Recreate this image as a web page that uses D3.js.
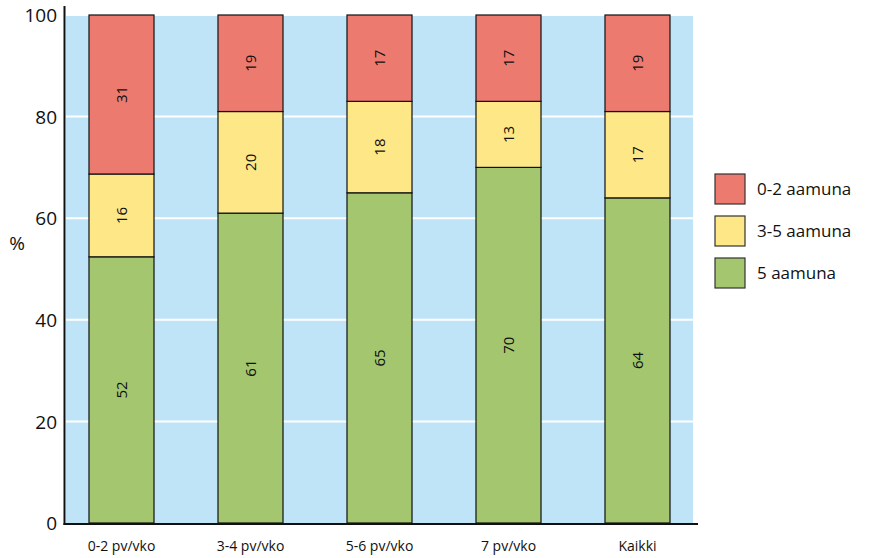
<!DOCTYPE html>
<html><head><meta charset="utf-8">
<script src="https://cdn.jsdelivr.net/npm/d3@7"></script>
<style>body{margin:0;background:#fff}svg{display:block}text{font-family:"Open Sans","Noto Sans",sans-serif;fill:#111}</style>
</head><body><svg id="c" width="879" height="558"></svg>
<script>
const categories = ["0-2 pv/vko","3-4 pv/vko","5-6 pv/vko","7 pv/vko","Kaikki"];
const seriesNames = ["5 aamuna","3-5 aamuna","0-2 aamuna"];
const green = [52.4,61,65,70,64];
const yellow = [16.3,20,18,13,17];
const red = [31.3,19,17,17,19];
const greenLabels = ["52","61","65","70","64"];
const yellowLabels = ["16","20","18","13","17"];
const redLabels = ["31","19","17","17","19"];
const yTicks = [0,20,40,60,80,100];
const colors = ["#a3c66e","#fde786","#ec7a6f"];

const svg = d3.select("#c");
const x = d3.scaleBand().domain(categories).range([57,702]).paddingInner(0.496).paddingOuter(0.248);
const y = d3.scaleLinear().domain([0,100]).range([523,15]);

svg.append("rect").attr("x",66).attr("y",16).attr("width",627).attr("height",507).attr("fill","#bfe4f8");
svg.selectAll(".grid").data(yTicks.filter(d=>d>0&&d<100)).join("line")
  .attr("x1",66).attr("x2",693).attr("y1",d=>y(d)).attr("y2",d=>y(d))
  .attr("stroke","#fff").attr("stroke-width",2);

const rows = categories.map((c,i)=>({cat:c,"5 aamuna":green[i],"3-5 aamuna":yellow[i],"0-2 aamuna":red[i]}));
const stack = d3.stack().keys(seriesNames)(rows);
const labels = [greenLabels,yellowLabels,redLabels];
stack.forEach((s,si)=>{
  const g = svg.append("g");
  g.selectAll("rect").data(s).join("rect")
    .attr("x",d=>x(d.data.cat)).attr("width",x.bandwidth())
    .attr("y",d=>y(d[1])).attr("height",d=>y(d[0])-y(d[1]))
    .attr("fill",colors[si]).attr("stroke","#111").attr("stroke-width",1.2);
  g.selectAll("text").data(s).join("text")
    .attr("transform",(d)=>`translate(${x(d.data.cat)+x.bandwidth()/2+5},${(y(d[0])+y(d[1]))/2}) rotate(-90)`)
    .attr("text-anchor","middle").attr("font-size",15)
    .text((d,i)=>labels[si][i]);
});

// axes
svg.append("line").attr("x1",64.5).attr("x2",64.5).attr("y1",6).attr("y2",525).attr("stroke","#111").attr("stroke-width",2);
svg.append("line").attr("x1",63.5).attr("x2",698).attr("y1",524).attr("y2",524).attr("stroke","#111").attr("stroke-width",2);
const yAxis = svg.append("g").attr("transform","translate(57,0)")
  .call(d3.axisLeft(y).tickValues(yTicks).tickSize(0).tickPadding(0));
yAxis.select(".domain").remove();
yAxis.selectAll("text").attr("font-size",19).attr("fill","#111").attr("dy","0.35em")
  .style("font-family",'"Open Sans","Noto Sans",sans-serif');
const xAxis = svg.append("g").attr("transform","translate(0,540)")
  .call(d3.axisBottom(x).tickSize(0).tickPadding(0));
xAxis.select(".domain").remove();
xAxis.selectAll("text").attr("font-size",14).attr("fill","#111").attr("dy","0.8em")
  .style("font-family",'"Open Sans","Noto Sans",sans-serif');

svg.append("text").attr("x",17).attr("y",243).attr("text-anchor","middle").attr("dy","0.35em").attr("font-size",19).text("%");

// legend
const legendOrder = ["0-2 aamuna","3-5 aamuna","5 aamuna"];
const legendColors = ["#ec7a6f","#fde786","#a3c66e"];
const lg = svg.append("g").attr("transform","translate(715,174)");
legendOrder.forEach((n,i)=>{
  lg.append("rect").attr("x",0).attr("y",i*42).attr("width",30).attr("height",30)
    .attr("fill",legendColors[i]).attr("stroke","#333").attr("stroke-width",1.2);
  lg.append("text").attr("x",42).attr("y",i*42+15).attr("dy","0.35em").attr("font-size",17).text(n);
});
</script></body></html>
